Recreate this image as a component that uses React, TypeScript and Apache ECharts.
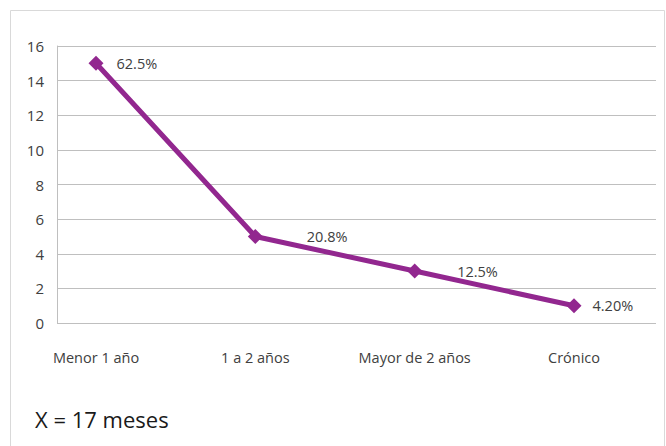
import React, { useEffect, useRef } from "react";
import * as echarts from "echarts";

const categories = ["Menor 1 año", "1 a 2 años", "Mayor de 2 años", "Crónico"];
const values = [15, 5, 3, 1];
const pctLabels = ["62.5%", "20.8%", "12.5%", "4.20%"];
const labelDistances = [13, 44, 35, 11];
const yTicks = { min: 0, max: 16, interval: 2 };
const footer = "X = 17 meses";

const FONT = "'Open Sans', 'Noto Sans', sans-serif";

export default function App() {
  const ref = useRef<HTMLDivElement>(null);
  useEffect(() => {
    if (!ref.current) return;
    document.body.style.margin = "0";
    const chart = echarts.init(ref.current, null, { renderer: "svg" });
    chart.setOption({
      animation: false,
      backgroundColor: "#ffffff",
      grid: [
        { left: 57, right: 10, top: 46, bottom: 123 },
        { left: 96, right: 92, top: 46, bottom: 123 },
      ],
      xAxis: [
        { gridIndex: 0, type: "value", show: false, min: 0, max: 1 },
        {
          gridIndex: 1,
          type: "category",
          data: categories,
          boundaryGap: false,
          axisLine: { show: false },
          axisTick: { show: false },
          axisLabel: { margin: 27, fontSize: 14.5, color: "#404040", fontFamily: FONT },
        },
      ],
      yAxis: [
        {
          gridIndex: 0,
          type: "value",
          min: yTicks.min,
          max: yTicks.max,
          interval: yTicks.interval,
          axisLine: { show: true, lineStyle: { color: "#bfbfbf", width: 1 } },
          axisTick: { show: false },
          axisLabel: { margin: 13, fontSize: 15, color: "#404040", fontFamily: FONT },
          splitLine: { show: true, lineStyle: { color: "#bfbfbf", width: 1 } },
        },
        {
          gridIndex: 1,
          type: "value",
          min: yTicks.min,
          max: yTicks.max,
          interval: yTicks.interval,
          show: false,
          splitLine: { show: false },
        },
      ],
      series: [
        {
          type: "line",
          xAxisIndex: 1,
          yAxisIndex: 1,
          data: values.map((v, i) => ({
            value: v,
            label: { distance: labelDistances[i], formatter: pctLabels[i] },
          })),
          symbol: "diamond",
          symbolSize: 15,
          lineStyle: { color: "#92278f", width: 5 },
          itemStyle: { color: "#92278f" },
          label: {
            show: true,
            position: "right",
            fontSize: 14.5,
            color: "#404040",
            fontFamily: FONT,
          },
        },
      ],
      graphic: [
        {
          type: "rect",
          shape: { x: 10.5, y: 10.5, width: 654, height: 460 },
          style: { fill: "none", stroke: "#d9d9d9", lineWidth: 1 },
          silent: true,
        },
        {
          type: "text",
          left: 35,
          top: 408,
          style: { text: footer, fontSize: 22, fill: "#1a1a1a", fontFamily: FONT },
        },
      ],
    });
    return () => chart.dispose();
  }, []);
  return <div ref={ref} style={{ width: 666, height: 446 }} />;
}
